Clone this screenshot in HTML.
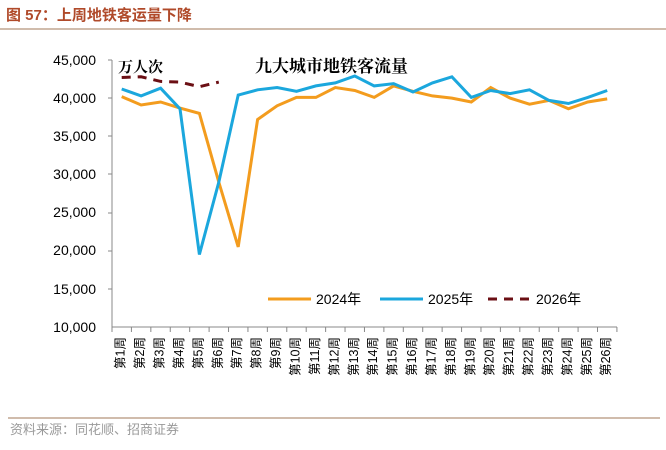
<!DOCTYPE html><html><head><meta charset="utf-8"><style>
body{margin:0;width:666px;height:445px;background:#fff;overflow:hidden;font-family:"Liberation Sans","Noto Sans CJK SC",sans-serif}
</style></head><body>
<svg width="666" height="445" xmlns="http://www.w3.org/2000/svg" font-family="Liberation Sans, Noto Sans CJK SC, sans-serif">
<text x="6" y="20" font-size="15" font-weight="bold" fill="#b04a2a">图 57：上周地铁客运量下降</text>
<line x1="0" y1="29" x2="666" y2="29" stroke="#a0785a" stroke-width="1"/>
<g font-size="14" fill="#000" text-anchor="end">
<text x="96" y="65">45,000</text><text x="96" y="103">40,000</text><text x="96" y="141">35,000</text><text x="96" y="179">30,000</text><text x="96" y="217">25,000</text><text x="96" y="255">20,000</text><text x="96" y="294">15,000</text><text x="96" y="332">10,000</text>
</g>
<g stroke="#888" stroke-width="1">
<line x1="112" y1="60" x2="112" y2="327"/><line x1="112" y1="327" x2="617" y2="327"/>
<line x1="108" y1="60" x2="112" y2="60"/><line x1="108" y1="98" x2="112" y2="98"/><line x1="108" y1="136" x2="112" y2="136"/><line x1="108" y1="174" x2="112" y2="174"/><line x1="108" y1="213" x2="112" y2="213"/><line x1="108" y1="251" x2="112" y2="251"/><line x1="108" y1="289" x2="112" y2="289"/>
</g>
<g id="ticks" stroke="#888"></g>
<g id="lab" font-size="12.5" fill="#000" text-anchor="end"></g>
<text x="118" y="72" font-size="15" font-weight="bold" font-family="Liberation Serif, Noto Serif CJK SC, serif">万人次</text>
<text x="255" y="72" font-size="17" font-weight="bold" font-family="Liberation Serif, Noto Serif CJK SC, serif">九大城市地铁客流量</text>
<polyline id="o" fill="none" stroke="#f39c1e" stroke-width="3"/>
<polyline id="b" fill="none" stroke="#1ba7dd" stroke-width="3"/>
<polyline id="d" fill="none" stroke="#6b0f14" stroke-width="3" stroke-dasharray="9,7"/>
<line x1="268" y1="299" x2="311" y2="299" stroke="#f39c1e" stroke-width="3"/><text x="316" y="304" font-size="14">2024年</text>
<line x1="380" y1="299" x2="423" y2="299" stroke="#1ba7dd" stroke-width="3"/><text x="428" y="304" font-size="14">2025年</text>
<line x1="488" y1="299" x2="531" y2="299" stroke="#6b0f14" stroke-width="3" stroke-dasharray="9,7"/><text x="536" y="304" font-size="14">2026年</text>
<line x1="8" y1="418" x2="660" y2="418" stroke="#a0785a" stroke-width="1"/>
<text x="10" y="434" font-size="13" fill="#999">资料来源：同花顺、招商证券</text>
</svg>
<script>
var X=i=>112+19.42*(i+0.5),Y=v=>327-(v-10000)*267/35000;
var O=[40200,39100,39500,38700,38000,29000,20500,37200,39000,40100,40100,41400,41000,40100,41600,40900,40300,40000,39500,41400,40000,39200,39700,38600,39500,39900];
var B=[41200,40300,41300,38600,19500,29000,40400,41100,41400,40900,41600,42000,42900,41600,41900,40800,42000,42800,40100,41000,40600,41100,39700,39300,40100,41000];
var D=[42700,42800,42200,42100,41500,42100];
function p(a){return a.map((v,i)=>X(i).toFixed(1)+","+Y(v).toFixed(1)).join(" ")}
document.getElementById("o").setAttribute("points",p(O));
document.getElementById("b").setAttribute("points",p(B));
document.getElementById("d").setAttribute("points",p(D));
var t="",l="";
for(var i=0;i<=26;i++){var x=112+19.42*i;t+='<line x1="'+x+'" y1="327" x2="'+x+'" y2="332"/>';}
for(var i=0;i<26;i++){var x=X(i)+3;l+='<text transform="translate('+x+',337) rotate(-90)">第'+(i+1)+'周</text>';}
document.getElementById("ticks").innerHTML=t;document.getElementById("lab").innerHTML=l;
</script>
</body></html>
